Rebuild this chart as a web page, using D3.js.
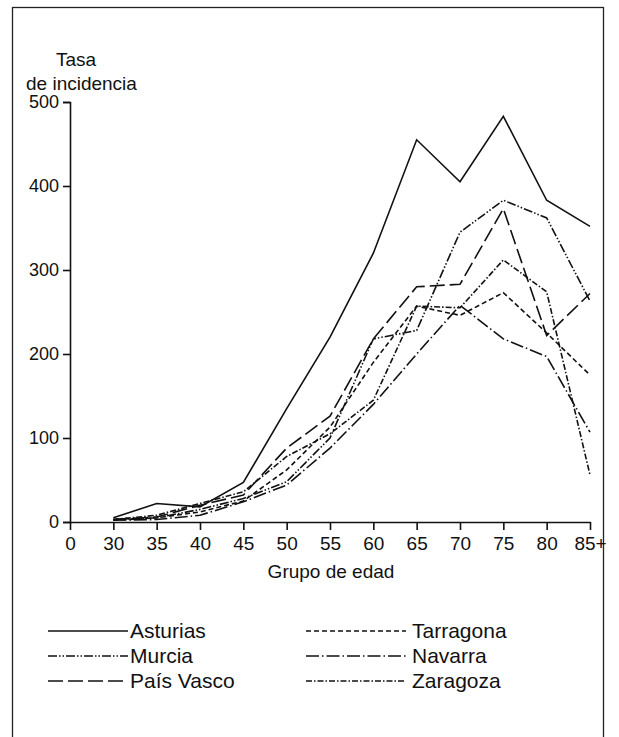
<!DOCTYPE html>
<html>
<head>
<meta charset="utf-8">
<script src="https://cdn.jsdelivr.net/npm/d3@7"></script>
<style>
body { margin: 0; background: #fff; }
text { font-family: "Liberation Sans", Arial, sans-serif; fill: #111; }
</style>
</head>
<body>
<div id="chart"></div>
<script>
let svgWidth = 619;
let svgHeight = 737;

// x categories (the "0" is only a label at the origin)
let xLabels = ["0", "30", "35", "40", "45", "50", "55", "60", "65", "70", "75", "80", "85+"];
let ageGroups = xLabels.slice(1);
let yTicks = [0, 100, 200, 300, 400, 500];

// incidence rates, one value per age group
let asturias  = [5, 22, 18, 47, 135, 220, 320, 455, 405, 483, 383, 352];
let tarragona = [2, 5, 12, 25, 62, 113, 190, 257, 246, 273, 225, 175];
let murcia    = [3, 5, 15, 28, 48, 100, 218, 228, 345, 383, 362, 263];
let navarra   = [2, 3, 8, 24, 44, 88, 140, 200, 258, 218, 197, 107];
let paisVasco = [3, 6, 20, 32, 88, 126, 218, 280, 283, 373, 222, 272];
let zaragoza  = [3, 8, 22, 36, 78, 105, 145, 257, 255, 312, 274, 56];

let seriesNames = ["Asturias", "Murcia", "País Vasco", "Tarragona", "Navarra", "Zaragoza"];
let seriesValues = [asturias, murcia, paisVasco, tarragona, navarra, zaragoza];
let seriesDash = ["none", "9,2,1.5,2,1.5,2", "15,5", "5,3", "13,3,1.5,3", "6,2,1.5,2"];

let series = seriesNames.map((name, i) => ({
  name: name,
  dash: seriesDash[i],
  values: seriesValues[i].map((v, j) => ({ age: ageGroups[j], v: v }))
}));

let svg = d3.select("#chart")
  .append("svg")
  .attr("width", svgWidth)
  .attr("height", svgHeight);

// outer frame
svg.append("rect")
  .attr("x", 12.5).attr("y", 7.5)
  .attr("width", 591).attr("height", 760)
  .attr("fill", "none")
  .attr("stroke", "#222")
  .attr("stroke-width", 1.3);

let x = d3.scalePoint()
  .domain(xLabels)
  .range([70, 590]);

let y = d3.scaleLinear()
  .domain([0, 500])
  .range([522, 102]);

// y axis
let yAxis = svg.append("g")
  .attr("transform", "translate(70,0)")
  .call(d3.axisLeft(y).tickValues(yTicks).tickSize(7).tickPadding(4).tickFormat(d3.format("d")));
yAxis.select(".domain").attr("stroke", "#111").attr("stroke-width", 1.6);
yAxis.selectAll(".tick line").attr("stroke", "#111").attr("stroke-width", 1.6);
yAxis.selectAll("text").style("font-size", "18px").attr("fill", "#111");

// x axis
let xAxis = svg.append("g")
  .attr("transform", "translate(0,522)")
  .call(d3.axisBottom(x).tickSize(8).tickPadding(7).tickSizeOuter(0));
xAxis.select(".domain").attr("stroke", "#111").attr("stroke-width", 1.6);
xAxis.selectAll(".tick line").attr("stroke", "#111").attr("stroke-width", 1.6);
xAxis.selectAll("text").style("font-size", "19px").attr("fill", "#111");

// axis titles
svg.append("text").attr("x", 56).attr("y", 66).style("font-size", "19px").text("Tasa");
svg.append("text").attr("x", 26).attr("y", 90).style("font-size", "19px").text("de incidencia");
svg.append("text").attr("x", 331).attr("y", 578).attr("text-anchor", "middle")
  .style("font-size", "19px").text("Grupo de edad");

// lines
let line = d3.line()
  .x(d => x(d.age))
  .y(d => y(d.v));

svg.append("g").selectAll("path")
  .data(series)
  .enter()
  .append("path")
  .attr("d", d => line(d.values))
  .attr("fill", "none")
  .attr("stroke", "#111")
  .attr("stroke-width", 1.6)
  .attr("stroke-dasharray", d => d.dash);

// legend: two columns of three
let legend = svg.append("g").selectAll("g")
  .data(series)
  .enter()
  .append("g")
  .attr("transform", (d, i) => `translate(${i < 3 ? 48 : 306}, ${631 + (i % 3) * 25})`);

legend.append("line")
  .attr("x1", 0)
  .attr("x2", (d, i) => i < 3 ? 80 : 100)
  .attr("stroke", "#111")
  .attr("stroke-width", 1.6)
  .attr("stroke-dasharray", d => d.dash);

legend.append("text")
  .attr("x", (d, i) => i < 3 ? 82 : 106)
  .attr("dy", "0.35em")
  .style("font-size", "21px")
  .text(d => d.name);
</script>
</body>
</html>
